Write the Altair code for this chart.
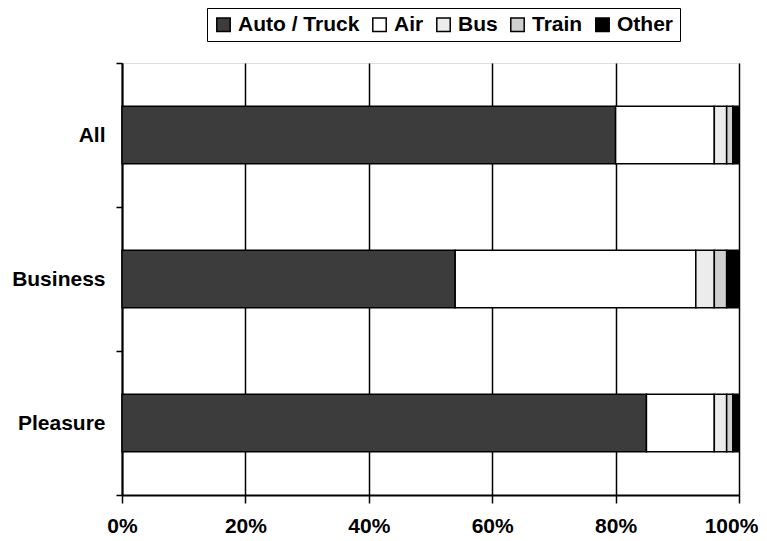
import altair as alt
import pandas as pd

segments = ["All", "Business", "Pleasure"]
modes = ["Auto / Truck", "Air", "Bus", "Train", "Other"]
all_vals = [80, 16, 2, 1, 1]
business_vals = [54, 39, 3, 2, 2]
pleasure_vals = [85, 11, 2, 1, 1]
mode_colors = ["#3c3c3c", "#ffffff", "#ececec", "#cfcfcf", "#000000"]

rows = []
for seg, vals in zip(segments, [all_vals, business_vals, pleasure_vals]):
    for i, (m, v) in enumerate(zip(modes, vals)):
        rows.append({"segment": seg, "mode": m, "share": v / 100.0, "ord": i})
df = pd.DataFrame(rows)

font = "Liberation Sans"

chart = alt.Chart(df).mark_bar(
    stroke="black", strokeWidth=1.5, height=alt.RelativeBandSize(0.4)
).encode(
    x=alt.X("share:Q", stack="zero",
            scale=alt.Scale(domain=[0, 1], nice=False),
            axis=alt.Axis(format="%", values=[0, 0.2, 0.4, 0.6, 0.8, 1.0],
                          title=None, grid=True, gridColor="black", gridWidth=1.5,
                          gridOpacity=1, labelFlush=False,
                          labelOffset={"condition": {"test": "datum.value == 1", "value": -8}, "value": 0},
                          domainColor="black", domainWidth=2,
                          tickColor="black", tickWidth=1.5, tickSize=8,
                          labelFont=font, labelFontSize=21, labelFontWeight="bold",
                          labelColor="black", labelPadding=12)),
    y=alt.Y("segment:N", sort=segments,
            scale=alt.Scale(paddingInner=0, paddingOuter=0),
            axis=alt.Axis(title=None, grid=False, tickBand="extent",
                          domainColor="black", domainWidth=2,
                          tickColor="black", tickWidth=1.5, tickSize=6,
                          labelFont=font, labelFontSize=21, labelFontWeight="bold",
                          labelColor="black", labelPadding=11)),
    color=alt.Color("mode:N", sort=modes,
                    scale=alt.Scale(domain=modes, range=mode_colors),
                    legend=alt.Legend(title=None, orient="none", direction="horizontal",
                                      legendX=85, legendY=-55,
                                      strokeColor="black", padding=6,
                                      symbolType="square", symbolSize=180,
                                      symbolStrokeColor="black", symbolStrokeWidth=1.5,
                                      symbolOpacity=1,
                                      labelFont=font, labelFontSize=21,
                                      labelFontWeight="bold", labelColor="black",
                                      labelOffset=4, columnPadding=9)),
    order=alt.Order("ord:Q"),
).properties(
    width=617, height=432,
    autosize=alt.AutoSizeParams(type="none"),
    padding={"left": 114, "top": 55, "right": 20, "bottom": 46},
).configure_view(stroke=None).configure(background="white")

chart.save("out.html", embed_options={"renderer": "svg", "actions": False})
